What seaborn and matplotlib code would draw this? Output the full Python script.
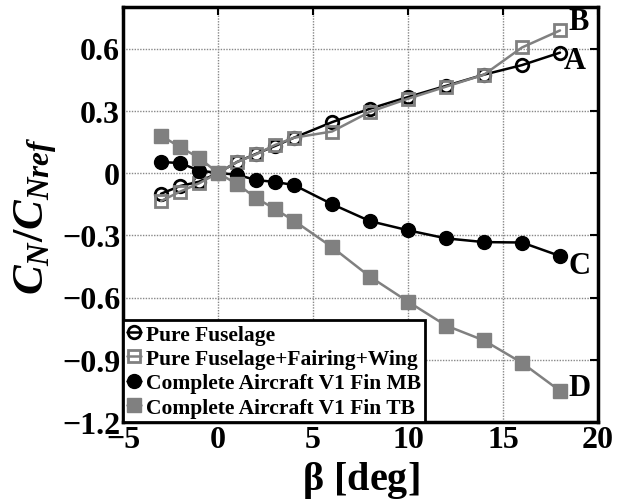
import matplotlib
matplotlib.use("Agg")
import matplotlib.pyplot as plt
import seaborn as sns
import numpy as np

beta = [-3, -2, -1, 0, 1, 2, 3, 4, 6, 8, 10, 12, 14, 16, 18]
pure_fuselage = [-0.10, -0.063, -0.042, 0.0, 0.053, 0.092, 0.13, 0.17, 0.245, 0.31, 0.366, 0.42, 0.474, 0.52, 0.58]
fuselage_fairing_wing = [-0.135, -0.09, -0.05, 0.0, 0.053, 0.09, 0.135, 0.17, 0.20, 0.295, 0.358, 0.416, 0.474, 0.605, 0.687]
complete_mb = [0.053, 0.048, 0.012, 0.0, -0.008, -0.034, -0.043, -0.058, -0.15, -0.232, -0.276, -0.315, -0.333, -0.335, -0.40]
complete_tb = [0.18, 0.125, 0.073, 0.0, -0.053, -0.12, -0.174, -0.23, -0.357, -0.50, -0.62, -0.735, -0.807, -0.915, -1.05]

labels = ["Pure Fuselage", "Pure Fuselage+Fairing+Wing",
          "Complete Aircraft V1 Fin MB", "Complete Aircraft V1 Fin TB"]
end_letters = ["A", "B", "C", "D"]
xticks = [-5, 0, 5, 10, 15, 20]
xtick_labels = ["\u22125", "0", "5", "10", "15", "20"]
yticks = [-1.2, -0.9, -0.6, -0.3, 0, 0.3, 0.6]
ytick_labels = ["\u22121.2", "\u22120.9", "\u22120.6", "\u22120.3", "0", "0.3", "0.6"]

sns.set_style("white")
plt.rcParams["font.family"] = ["Liberation Serif", "DejaVu Serif"]
plt.rcParams["font.weight"] = "bold"
plt.rcParams["text.color"] = "black"
plt.rcParams["axes.labelcolor"] = "black"
plt.rcParams["xtick.color"] = "black"
plt.rcParams["ytick.color"] = "black"
plt.rcParams["mathtext.fontset"] = "custom"
plt.rcParams["mathtext.it"] = "Liberation Serif:italic:bold"
plt.rcParams["mathtext.rm"] = "Liberation Serif:bold"
plt.rcParams["mathtext.bf"] = "Liberation Serif:bold"
plt.rcParams["mathtext.sf"] = "Liberation Serif"

fig = plt.figure(figsize=(6.21, 5.02), dpi=100)
ax = fig.add_axes([123/621, 1-423/502, (598-123)/621, (423-8)/502])

gray = "#808080"
styles = [
    dict(color="black", marker="o", markersize=9, markerfacecolor="none",
         markeredgecolor="black", markeredgewidth=2),
    dict(color=gray, marker="s", markersize=8, markerfacecolor="none",
         markeredgecolor=gray, markeredgewidth=2),
    dict(color="black", marker="o", markersize=10, markerfacecolor="black",
         markeredgecolor="black", markeredgewidth=1),
    dict(color=gray, marker="s", markersize=9.5, markerfacecolor=gray,
         markeredgecolor=gray, markeredgewidth=1),
]
series = [pure_fuselage, fuselage_fairing_wing, complete_mb, complete_tb]
for ys, lab, st in zip(series, labels, styles):
    sns.lineplot(x=beta, y=ys, ax=ax, label=lab, linewidth=1.8, **st)

offsets = [(10.8, -5.8), (13.7, 6.5), (14.4, -7.2), (13.7, 2.2)]
for ys, letter, off in zip(series, end_letters, offsets):
    ax.annotate(letter, xy=(beta[-1], ys[-1]), xytext=off, textcoords="offset points",
                ha="center", va="center", fontsize=22, fontweight="bold", color="black")

ax.set_xlim(-5, 20)
ax.set_ylim(-1.2, 0.8)
ax.set_xticks(xticks)
ax.set_xticklabels(xtick_labels)
ax.set_yticks(yticks)
ax.set_yticklabels(ytick_labels)
ax.tick_params(direction="in", length=6, width=1.5, top=True, right=True,
               labelsize=23, pad=2, colors="black")
for lab in ax.get_xticklabels() + ax.get_yticklabels():
    lab.set_fontweight("bold")
ax.grid(True, color="#888888", linestyle=(0, (1, 1)), linewidth=1)
for sp in ax.spines.values():
    sp.set_linewidth(2.5)
    sp.set_color("black")

ax.set_xlabel(r"$\mathsf{\beta}$ [deg]", fontsize=29, fontweight="bold", labelpad=4)
ax.set_ylabel(r"$C_N/C_{Nref}$", fontsize=32, labelpad=2)

leg = ax.legend(loc="lower left", borderaxespad=0, fontsize=15.5, handlelength=0.65,
                handletextpad=0.2, labelspacing=0.2, borderpad=0.2, fancybox=False,
                framealpha=1, edgecolor="black")
leg.get_frame().set_linewidth(2)
for t in leg.get_texts():
    t.set_fontweight("bold")
    t.set_color("black")

fig.savefig("out.png", dpi=100)
